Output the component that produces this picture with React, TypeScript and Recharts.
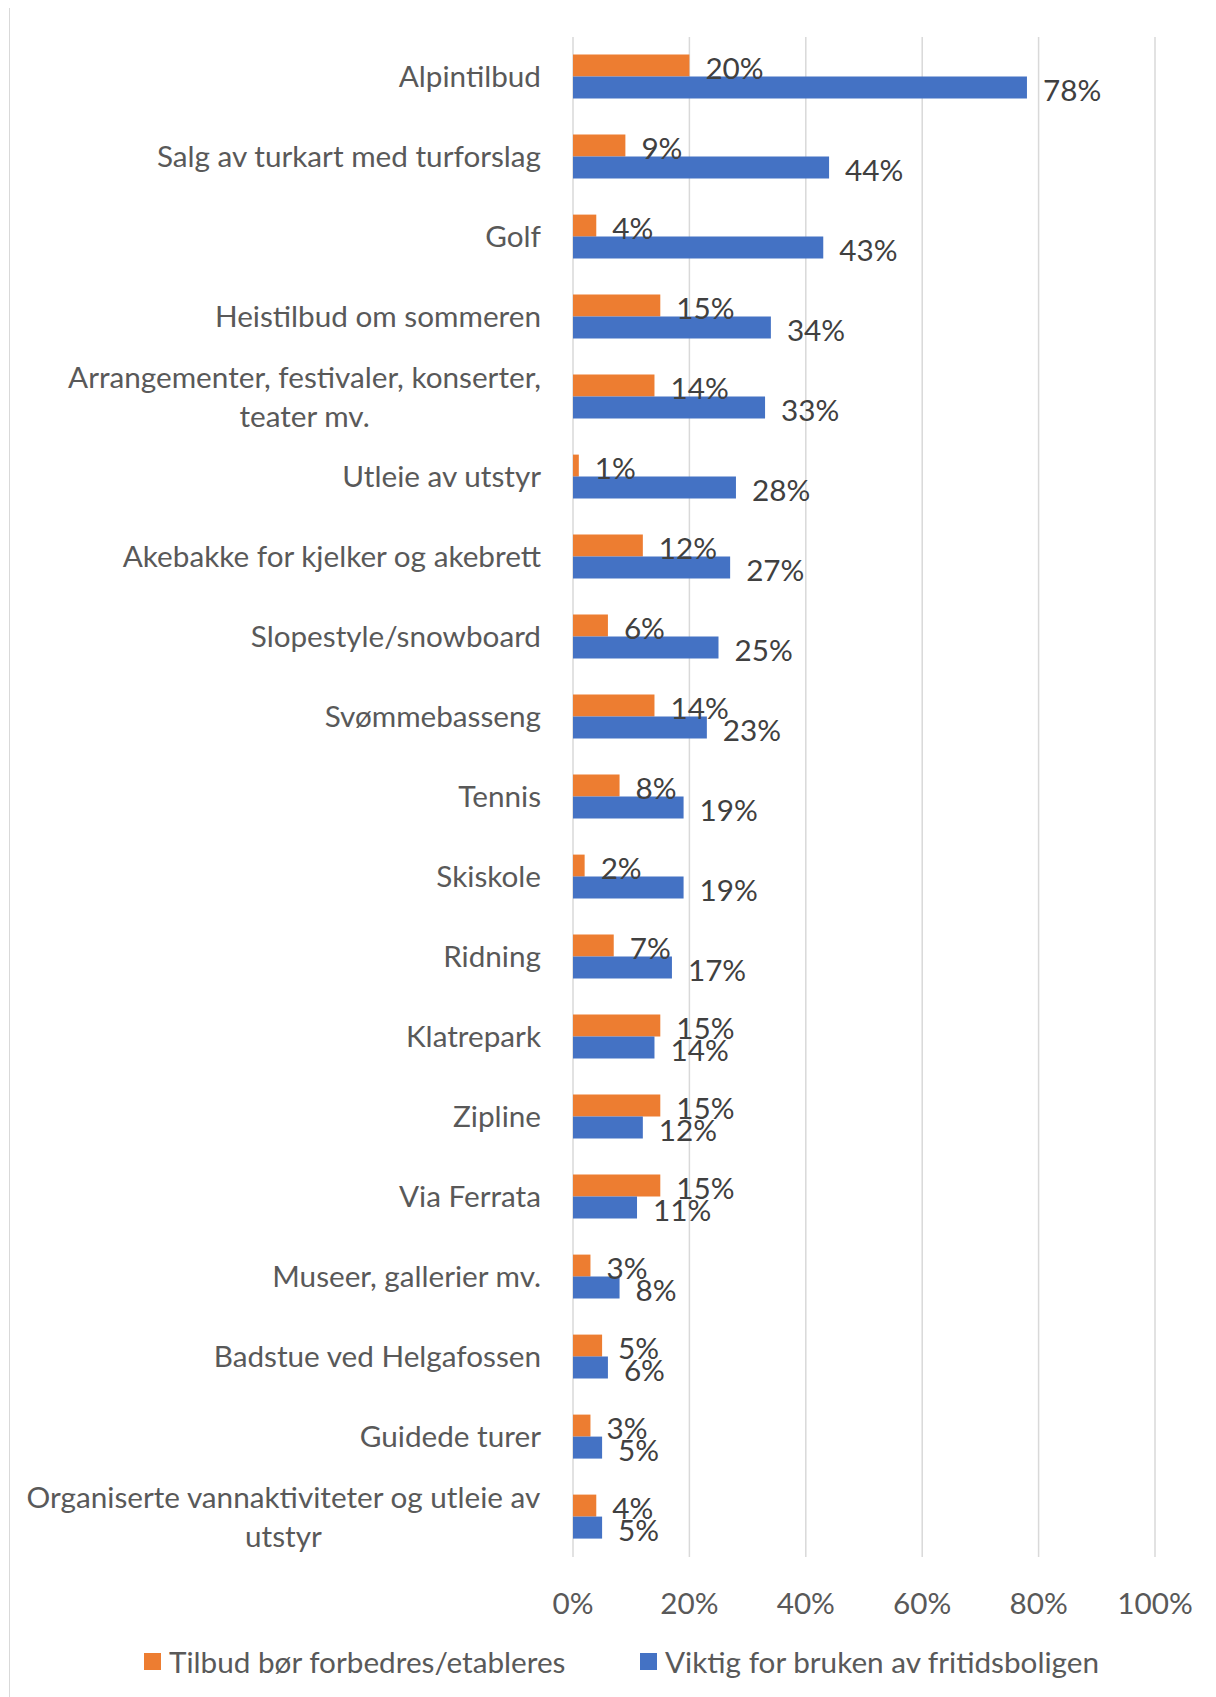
import React from 'react';
import { BarChart, Bar, XAxis, YAxis, CartesianGrid, LabelList } from 'recharts';

const categories = [
  'Alpintilbud',
  'Salg av turkart med turforslag',
  'Golf',
  'Heistilbud om sommeren',
  'Arrangementer, festivaler, konserter,\nteater mv.',
  'Utleie av utstyr',
  'Akebakke for kjelker og akebrett',
  'Slopestyle/snowboard',
  'Svømmebasseng',
  'Tennis',
  'Skiskole',
  'Ridning',
  'Klatrepark',
  'Zipline',
  'Via Ferrata',
  'Museer, gallerier mv.',
  'Badstue ved Helgafossen',
  'Guidede turer',
  'Organiserte vannaktiviteter og utleie av\nutstyr',
];

const improveValues = [20, 9, 4, 15, 14, 1, 12, 6, 14, 8, 2, 7, 15, 15, 15, 3, 5, 3, 4];
const importantValues = [78, 44, 43, 34, 33, 28, 27, 25, 23, 19, 19, 17, 14, 12, 11, 8, 6, 5, 5];

const xTicks = [0, 20, 40, 60, 80, 100];

const seriesNames = ['Tilbud bør forbedres/etableres', 'Viktig for bruken av fritidsboligen'];
const seriesColors = ['#ED7D31', '#4472C4'];

const data = categories.map((name, i) => ({
  name,
  improve: improveValues[i],
  important: importantValues[i],
}));

const FONT = 'Lato, "Open Sans", sans-serif';
const FS = 29.7;

let measureCtx: CanvasRenderingContext2D | null = null;
function measure(text: string): number {
  if (!measureCtx) {
    const c = document.createElement('canvas');
    measureCtx = c.getContext('2d');
  }
  if (!measureCtx) return text.length * FS * 0.5;
  measureCtx.font = `${FS}px Lato`;
  return measureCtx.measureText(text).width;
}

function CategoryTick(props: any) {
  const { x, y, payload } = props;
  const lines = String(payload.value).split('\n');
  const right = x - 32;
  if (lines.length === 1) {
    return (
      <text x={right} y={y} dy="0.35em" textAnchor="end" fontFamily={FONT} fontSize={FS} fill="#595959">
        {lines[0]}
      </text>
    );
  }
  const maxW = Math.max(...lines.map((l) => measure(l)));
  const cx = right - maxW / 2;
  const lh = 39;
  const y0 = y - ((lines.length - 1) * lh) / 2;
  return (
    <g>
      {lines.map((l, i) => (
        <text key={i} x={cx} y={y0 + i * lh} dy="0.35em" textAnchor="middle" fontFamily={FONT} fontSize={FS} fill="#595959">
          {l}
        </text>
      ))}
    </g>
  );
}

function ValueTick(props: any) {
  const { x, y, payload } = props;
  return (
    <text x={x} y={y + 57} textAnchor="middle" fontFamily={FONT} fontSize={FS} fill="#595959">
      {`${payload.value}%`}
    </text>
  );
}

function makeLabel() {
  return (props: any) => {
    const { x, y, width, height, value } = props;
    return (
      <text
        x={Number(x) + Number(width) + 16}
        y={Number(y) + Number(height) / 2 + 3}
        dy="0.35em"
        textAnchor="start"
        fontFamily={FONT}
        fontSize={FS}
        fill="#404040"
      >
        {`${value}%`}
      </text>
    );
  };
}

export default function App() {
  return (
    <div
      style={{
        position: 'relative',
        marginLeft: -8,
        marginTop: -8,
        width: 1216,
        height: 1697,
        overflow: 'hidden',
        background: '#ffffff',
      }}
    >
      <div
        style={{
          position: 'absolute',
          left: 9,
          top: 7,
          width: 1400,
          height: 1900,
          border: '1.5px solid #d9d9d9',
          boxSizing: 'border-box',
        }}
      />
      <div style={{ position: 'absolute', left: 0, top: 0 }}>
        <BarChart
          width={1216}
          height={1697}
          data={data}
          layout="vertical"
          margin={{ top: 37, right: 61, bottom: 80, left: 0 }}
          barCategoryGap="22%"
          barGap={0}
        >
          <CartesianGrid horizontal={false} vertical={true} stroke="#d9d9d9" strokeWidth={1.5} />
          <XAxis
            type="number"
            domain={[0, 100]}
            ticks={xTicks}
            axisLine={false}
            tickLine={false}
            tickSize={0}
            tickMargin={0}
            height={60}
            tick={<ValueTick />}
            interval={0}
          />
          <YAxis
            type="category"
            dataKey="name"
            width={573}
            axisLine={false}
            tickLine={false}
            tickSize={0}
            tickMargin={0}
            tick={<CategoryTick />}
            interval={0}
          />
          <Bar dataKey="improve" name={seriesNames[0]} fill={seriesColors[0]} isAnimationActive={false}>
            <LabelList dataKey="improve" content={makeLabel()} />
          </Bar>
          <Bar dataKey="important" name={seriesNames[1]} fill={seriesColors[1]} isAnimationActive={false}>
            <LabelList dataKey="important" content={makeLabel()} />
          </Bar>
        </BarChart>
      </div>
      <div
        style={{
          position: 'absolute',
          top: 1641,
          left: 0,
          width: 1216,
          height: 40,
          fontFamily: FONT,
          fontSize: FS,
          color: '#595959',
        }}
      >
        {[144, 640].map((left, i) => (
          <div key={i} style={{ position: 'absolute', left, top: 0, height: 40, display: 'flex', alignItems: 'center', whiteSpace: 'nowrap' }}>
            <span style={{ display: 'inline-block', width: 17, height: 17, background: seriesColors[i], marginRight: 8 }} />
            <span>{seriesNames[i]}</span>
          </div>
        ))}
      </div>
    </div>
  );
}
